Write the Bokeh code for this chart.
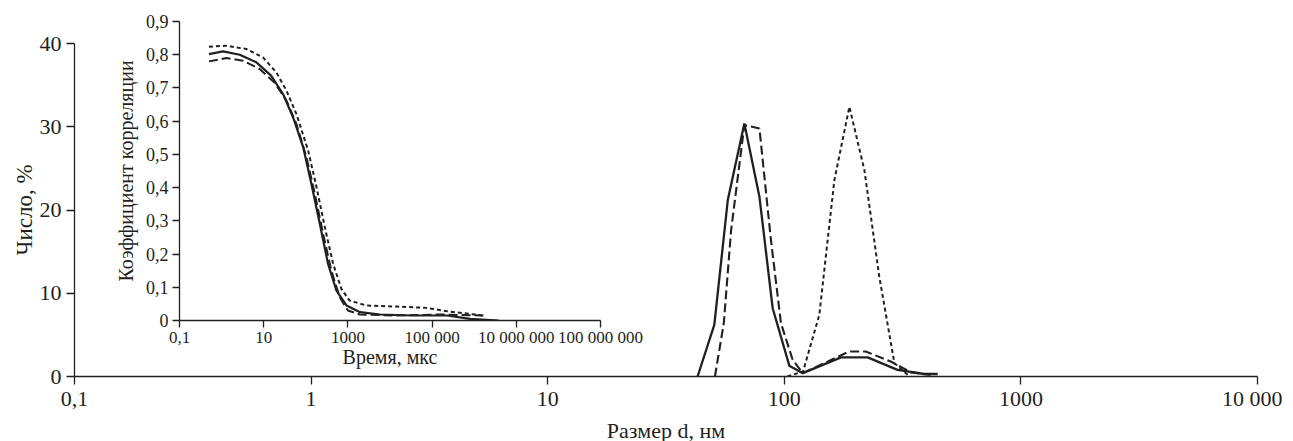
import math
from bokeh.plotting import figure
from bokeh.models import FixedTicker, Range1d
from bokeh.embed import file_html
from bokeh.resources import INLINE

INK = "#231f20"
FONT = "Liberation Serif"

# ---------------- main chart data: number distribution vs size ----------------
size_ticks = [0.1, 1.0, 10.0, 100.0, 1000.0, 10000.0]
size_tick_labels = ["0,1", "1", "10", "100", "1000", "10 000"]
number_ticks = [0, 10, 20, 30, 40]
number_tick_labels = ["0", "10", "20", "30", "40"]

size_solid = [43.0, 50.6, 57.7, 67.8, 78.5, 89.3, 105.0, 119.7, 173.8, 225.0, 301.0, 391.0, 445.0]
num_solid = [0.0, 6.2, 21.2, 30.4, 21.6, 8.2, 1.3, 0.4, 2.3, 2.3, 0.8, 0.3, 0.3]

size_dashed = [50.9, 55.5, 59.6, 67.8, 78.5, 87.8, 96.8, 108.5, 119.7, 188.0, 221.0, 282.0, 343.0, 415.0]
num_dashed = [0.0, 6.4, 17.6, 30.2, 29.8, 16.4, 6.4, 2.0, 0.4, 3.0, 3.0, 1.8, 0.5, 0.2]

size_dotted = [103.0, 120.0, 140.6, 162.8, 188.4, 218.0, 252.0, 292.0, 338.0]
num_dotted = [0.0, 0.6, 7.4, 23.6, 32.4, 24.8, 12.0, 1.6, 0.0]

# ---------------- inset data: correlation coefficient vs time ----------------
time_ticks = [0.1, 10.0, 1000.0, 100000.0, 10000000.0, 1000000000.0]
time_tick_labels = ["0,1", "10", "1000", "100 000", "10 000 000", "100 000 000"]
corr_ticks = [0.0, 0.1, 0.2, 0.3, 0.4, 0.5, 0.6, 0.7, 0.8, 0.9]
corr_tick_labels = ["0", "0,1", "0,2", "0,3", "0,4", "0,5", "0,6", "0,7", "0,8", "0,9"]

time_solid = [0.5, 1.08, 2.7, 6.7, 15, 29, 50, 87, 136, 215, 338, 535, 930, 1940, 5800, 36000, 225000, 800000, 3800000]
corr_solid = [0.802, 0.81, 0.80, 0.777, 0.737, 0.681, 0.611, 0.521, 0.411, 0.291, 0.170, 0.090, 0.045, 0.025, 0.018, 0.015, 0.015, 0.005, 0.0]

time_dotted = [0.5, 1.3, 3.9, 9.6, 20, 35, 60, 114, 180, 283, 447, 700, 1100, 2780, 14400, 74000, 223000, 1650000]
corr_dotted = [0.824, 0.827, 0.817, 0.792, 0.747, 0.691, 0.621, 0.511, 0.401, 0.281, 0.170, 0.095, 0.060, 0.045, 0.042, 0.038, 0.028, 0.015]

time_dashed = [0.5, 1.3, 3.2, 8, 18, 35, 60, 104, 164, 258, 405, 640, 1000, 1940, 14400, 155000, 1650000]
corr_dashed = [0.780, 0.790, 0.782, 0.757, 0.716, 0.661, 0.591, 0.491, 0.381, 0.261, 0.150, 0.070, 0.030, 0.018, 0.015, 0.018, 0.015]


def style_axes(fig, tick_px, tick_len, title_px):
    for ax in (fig.xaxis[0], fig.yaxis[0]):
        ax.axis_line_color = INK
        ax.axis_line_width = 1.3
        ax.major_tick_line_color = INK
        ax.major_tick_line_width = 1.3
        ax.major_tick_out = tick_len
        ax.major_tick_in = 0
        ax.minor_tick_line_color = None
        ax.major_label_text_font = FONT
        ax.major_label_text_font_size = tick_px
        ax.major_label_text_color = INK
        ax.axis_label_text_font = FONT
        ax.axis_label_text_font_size = title_px
        ax.axis_label_text_font_style = "normal"
        ax.axis_label_text_color = INK
    fig.grid.visible = False
    fig.outline_line_color = None


# ---------------- main figure ----------------
p = figure(frame_width=1183, frame_height=333, x_axis_type="log",
           x_range=Range1d(0.1, 10000), y_range=Range1d(0, 40),
           output_backend="svg", toolbar_location=None,
           min_border_left=74, min_border_right=25,
           min_border_top=43, min_border_bottom=0,
           x_axis_label="Размер d, нм", y_axis_label="Число, %")
style_axes(p, "22px", 8, "22px")
p.xaxis.ticker = FixedTicker(ticks=size_ticks)
p.xaxis.major_label_overrides = dict(zip(size_ticks, size_tick_labels))
p.yaxis.ticker = FixedTicker(ticks=number_ticks)
p.yaxis.major_label_overrides = dict(zip(number_ticks, number_tick_labels))
p.xaxis.major_label_standoff = 1
p.yaxis.major_label_standoff = 5
p.xaxis.axis_label_standoff = 4
p.yaxis.axis_label_standoff = 0
p.yaxis.axis_label_text_font_size = "23px"

p.line(size_solid, num_solid, line_color=INK, line_width=2.3)
p.line(size_dashed, num_dashed, line_color=INK, line_width=2.1, line_dash="9 4")
p.line(size_dotted, num_dotted, line_color=INK, line_width=2.0, line_dash="4 3")

# ---------------- inset figure ----------------
inset = figure(frame_width=421, frame_height=299, x_axis_type="log",
               x_range=Range1d(0.1, 1e9), y_range=Range1d(0, 0.9),
               output_backend="svg", toolbar_location=None,
               min_border_left=75, min_border_right=50,
               min_border_top=13, min_border_bottom=0,
               background_fill_color=None, border_fill_color=None,
               x_axis_label="Время, мкс", y_axis_label="Коэффициент корреляции",
               styles={"position": "absolute", "left": "104px", "top": "8px"})
style_axes(inset, "17px", 7, "20px")
inset.yaxis.major_label_text_font_size = "18px"
inset.xaxis.ticker = FixedTicker(ticks=time_ticks)
inset.xaxis.major_label_overrides = dict(zip(time_ticks, time_tick_labels))
inset.yaxis.ticker = FixedTicker(ticks=corr_ticks)
inset.yaxis.major_label_overrides = dict(zip(corr_ticks, corr_tick_labels))
inset.xaxis.major_label_standoff = 0
inset.yaxis.major_label_standoff = 4
inset.xaxis.axis_label_standoff = -4
inset.yaxis.axis_label_standoff = 6

inset.line(time_solid, corr_solid, line_color=INK, line_width=2.2)
inset.line(time_dashed, corr_dashed, line_color=INK, line_width=2.0, line_dash="9 4")
inset.line(time_dotted, corr_dotted, line_color=INK, line_width=2.0, line_dash="4 3")

open("out.html", "w").write(file_html([p, inset], INLINE))
